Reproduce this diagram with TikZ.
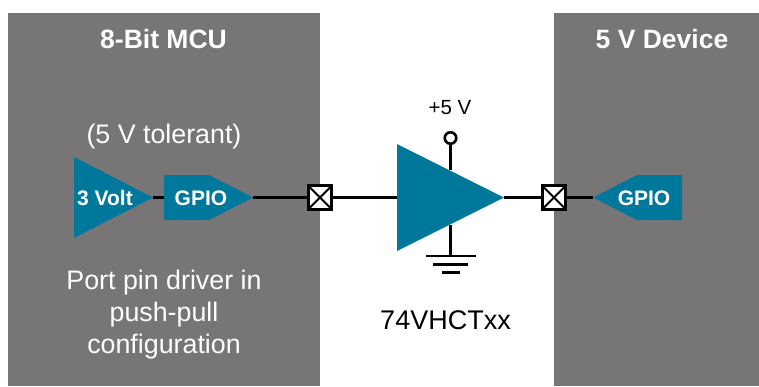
\documentclass[tikz,border=0pt]{standalone}
\usepackage{fontspec}
\setmainfont{Liberation Sans}
\definecolor{panelgrey}{HTML}{787576}
\definecolor{drvteal}{HTML}{00789C}
\tikzset{
  panel/.style={fill=panelgrey,draw=none},
  drv/.style={fill=drvteal,draw=none},
  wire/.style={draw=black,line width=2.6pt},
  xbox/.style={draw=black,fill=white,line width=2.6pt,minimum size=23.5pt,inner sep=0pt,path picture={\draw[black,line width=2pt] (path picture bounding box.north west)--(path picture bounding box.south east) (path picture bounding box.north east)--(path picture bounding box.south west);}},
  head/.style={text=white,font=\fontsize{26.5}{30}\selectfont\bfseries,inner sep=0pt},
  lab/.style={text=white,font=\fontsize{26.8}{32}\selectfont,align=center,inner sep=0pt},
  drvlab/.style={text=white,font=\fontsize{21}{24}\selectfont\bfseries,inner sep=0pt},
  blk/.style={text=black,inner sep=0pt},
}
\begin{document}
\begin{tikzpicture}[x=1pt,y=-1pt]
\useasboundingbox (0,0) rectangle (759,386);
\fill[white] (0,0) rectangle (759,386);
\fill[panel] (8,13) rectangle (320,386);
\fill[panel] (554,13) rectangle (759,386);
\coordinate (tipA) at (153,197.5);
\coordinate (inB) at (164,197.5);
\coordinate (tipB) at (253,197.5);
\coordinate (inC) at (397,197.5);
\coordinate (tipC) at (504,197.5);
\coordinate (tipD) at (593,197.5);
\coordinate (vcctop) at (450.5,170);
\coordinate (gndtop) at (450.5,225);
\coordinate (gnd) at (450.5,256);
\node[draw=black,fill=white,circle,line width=2.6pt,minimum size=11.5pt,inner sep=0pt] (vccdot) at (450.5,138) {};
\node[xbox] (padL) at (320,197.5) {};
\node[xbox] (padR) at (554,197.5) {};
\draw[wire] (tipA) -- (inB);
\draw[wire] (tipB) -- (padL);
\draw[wire] (padL) -- (inC);
\draw[wire] (tipC) -- (padR);
\draw[wire] (padR) -- (tipD);
\draw[wire] (vccdot) -- (vcctop);
\draw[wire] (gndtop) -- (gnd);
\fill[drv] (74,157) -- (tipA) -- (74,238) -- cycle;
\fill[drv] (164,175) -- (209,175) -- (tipB) -- (209,220) -- (164,220) -- cycle;
\fill[drv] (inC |- 0,144) -- (tipC) -- (inC |- 0,251) -- cycle;
\fill[drv] (tipD) -- (637,175) -- (682,175) -- (682,220) -- (637,220) -- cycle;
\draw[wire] (426,256) -- (476,256);
\draw[wire] (433,264.5) -- (468,264.5);
\draw[wire] (442,272.5) -- (460,272.5);
\node[head] (mcu) at (163.5,39) {8-Bit MCU};
\node[head] (dev) at (662,39) {5 V Device};
\node[lab] (tol) at (164,136.5) {(5 V tolerant)};
\node[drvlab] (volt) at (105,198) {3 Volt};
\node[drvlab] (g1) at (201,198) {GPIO};
\node[drvlab] (g2) at (644,198) {GPIO};
\node[lab] (port) at (164,315) {Port pin driver in\\push-pull\\configuration};
\node[blk,font=\fontsize{20.5}{24}\selectfont] (plus) at (450,107.5) {+5 V};
\node[blk,font=\fontsize{27}{30}\selectfont] (part) at (445.5,320) {74VHCTxx};
\end{tikzpicture}
\end{document}
